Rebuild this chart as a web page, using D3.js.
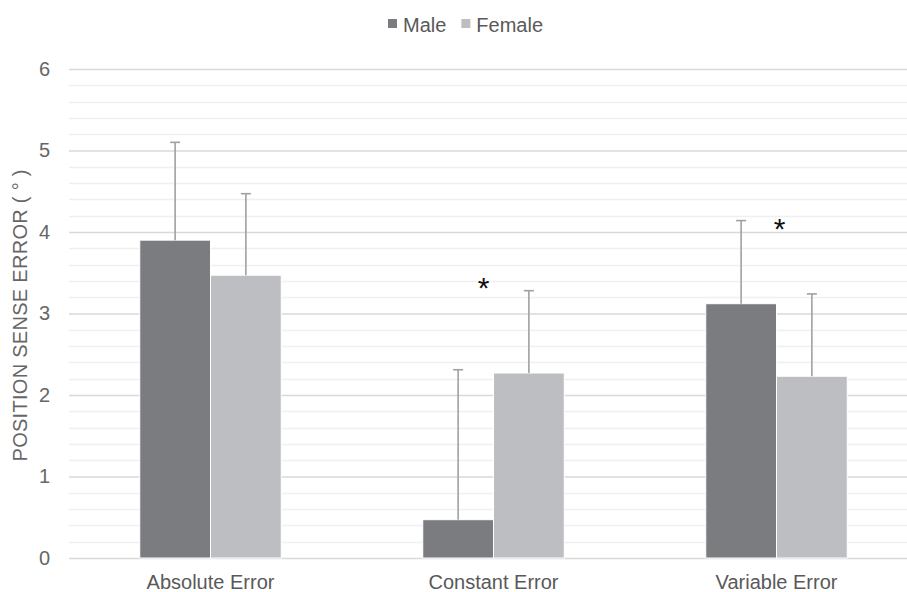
<!DOCTYPE html>
<html>
<head>
<meta charset="utf-8">
<script src="https://cdn.jsdelivr.net/npm/d3@7"></script>
<style>
	body { margin: 0; background: #fff; }
	svg { display: block; font-family: "Liberation Sans", Arial, sans-serif; }
</style>
</head>
<body>
<div id="chart"></div>
<script>
var categories = ["Absolute Error", "Constant Error", "Variable Error"];
var series = ["Male", "Female"];
var maleValues = [3.90, 0.47, 3.12];
var maleErrors = [1.20, 1.84, 1.02];
var femaleValues = [3.47, 2.27, 2.23];
var femaleErrors = [1.00, 1.01, 1.01];
var yTicks = [0, 1, 2, 3, 4, 5, 6];
// significance marks: category and height
var stars = [
	{category: "Constant Error", value: 3.46},
	{category: "Variable Error", value: 4.18}
];

var colors = {Male: "#7b7c80", Female: "#bdbec2"};

var width = 907;
var height = 592;
var margin = {top: 69, right: -11, bottom: 34, left: 69};
var fontSize = "20px";

var values = {Male: maleValues, Female: femaleValues};
var errors = {Male: maleErrors, Female: femaleErrors};

var data = [];
categories.forEach((c, i) => {
	series.forEach(s => {
		data.push({category: c, series: s, value: values[s][i], err: errors[s][i]});
	});
});

var svg = d3.select("#chart").append("svg")
	.attr("width", width)
	.attr("height", height);

var x = d3.scaleBand()
	.domain(categories)
	.range([margin.left, width - margin.right]);

var x1 = d3.scaleBand()
	.domain(series)
	.range([0, x.bandwidth()])
	.paddingInner(0)
	.paddingOuter(1);

var y = d3.scaleLinear()
	.domain([0, 6])
	.range([height - margin.bottom, margin.top]);

// minor gridlines
svg.append("g")
	.selectAll("line")
	.data(d3.range(0, 6.01, 0.2).filter(v => Math.abs(v - Math.round(v)) > 0.01))
	.join("line")
	.attr("x1", margin.left)
	.attr("x2", width)
	.attr("y1", d => Math.round(y(d)) + 0.5)
	.attr("y2", d => Math.round(y(d)) + 0.5)
	.attr("stroke", "#f0f0f0")
	.attr("stroke-width", 1.5);

// major gridlines + tick labels
var yAxis = d3.axisLeft(y)
	.tickValues(yTicks)
	.tickSize(-(width - margin.left))
	.tickPadding(19)
	.tickFormat(d3.format("d"));

svg.append("g")
	.attr("transform", `translate(${margin.left},0)`)
	.call(yAxis)
	.call(g => g.select(".domain").remove())
	.call(g => g.selectAll(".tick line").attr("stroke", "#d9d9d9").attr("stroke-width", 1.5))
	.call(g => g.selectAll(".tick text")
		.attr("fill", "#666")
		.style("font-size", fontSize)
		.style("font-family", "Liberation Sans, Arial, sans-serif"));

// bars
svg.append("g")
	.selectAll("rect")
	.data(data)
	.join("rect")
	.attr("x", d => x(d.category) + x1(d.series))
	.attr("width", x1.bandwidth())
	.attr("y", d => y(d.value))
	.attr("height", d => y(0) - y(d.value))
	.attr("fill", d => colors[d.series])
	.attr("stroke", "#fff")
	.attr("stroke-width", 1);

// error bars (upper only)
var eb = svg.append("g")
	.attr("stroke", "#a0a0a4")
	.attr("stroke-width", 1.6)
	.selectAll("g")
	.data(data)
	.join("g")
	.attr("transform", d => `translate(${x(d.category) + x1(d.series) + x1.bandwidth() / 2},0)`);

eb.append("line")
	.attr("y1", d => y(d.value))
	.attr("y2", d => y(d.value + d.err));

eb.append("line")
	.attr("x1", -5)
	.attr("x2", 5)
	.attr("y1", d => y(d.value + d.err))
	.attr("y2", d => y(d.value + d.err));

// significance stars
svg.append("g")
	.selectAll("text")
	.data(stars)
	.join("text")
	.attr("x", (d, i) => x(d.category) + x.bandwidth() / 2 + (i === 0 ? -10 : 3))
	.attr("y", d => y(d.value))
	.attr("dy", "0.72em")
	.attr("text-anchor", "middle")
	.attr("fill", "#111")
	.style("font-size", "30px")
	.text("*");

// category labels
svg.append("g")
	.selectAll("text")
	.data(categories)
	.join("text")
	.attr("x", d => x(d) + x.bandwidth() / 2)
	.attr("y", height - 3)
	.attr("text-anchor", "middle")
	.attr("fill", "#595959")
	.style("font-size", fontSize)
	.text(d => d);

// y axis title
svg.append("text")
	.attr("transform", `translate(27,${(margin.top + height - margin.bottom) / 2 + 2}) rotate(-90)`)
	.attr("text-anchor", "middle")
	.attr("fill", "#666")
	.style("font-size", fontSize)
	.attr("textLength", 292)
	.text("POSITION SENSE ERROR (\u00a0\u00b0\u00a0)");

// legend
var legend = svg.append("g")
	.attr("transform", "translate(388,32)");

var lx = 0;
series.forEach(s => {
	var item = legend.append("g").attr("transform", `translate(${lx},0)`);
	item.append("rect")
		.attr("x", 0)
		.attr("y", -13)
		.attr("width", 9)
		.attr("height", 9)
		.attr("fill", colors[s]);
	var t = item.append("text")
		.attr("x", 15)
		.attr("fill", "#595959")
		.style("font-size", fontSize)
		.text(s);
	lx += 15 + t.node().getComputedTextLength() + 15;
});
</script>
</body>
</html>
